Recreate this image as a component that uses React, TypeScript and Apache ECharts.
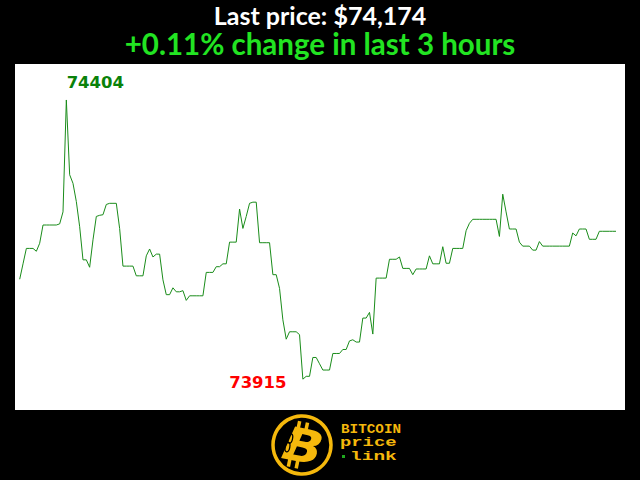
import React, { useEffect, useRef } from "react";
import * as echarts from "echarts";

const titleLine1 = "Last price: $74,174";
const titleLine2 = "+0.11% change in last 3 hours";
const logoWords = ["BITCOIN", "price", "link"];

// one price per minute over the last 3 hours (180 points)
const prices: number[] = [
  74090, 74117, 74144, 74144, 74144, 74139, 74153, 74185, 74185, 74185,
  74185, 74185, 74187, 74208, 74404, 74273, 74258, 74226, 74182, 74124,
  74124, 74111, 74159, 74200, 74202, 74203, 74221, 74223, 74223, 74223,
  74179, 74113, 74113, 74113, 74113, 74096, 74096, 74096, 74131, 74143,
  74129, 74134, 74134, 74089, 74063, 74063, 74075, 74068, 74068, 74070,
  74053, 74061, 74061, 74061, 74061, 74061, 74102, 74102, 74102, 74112,
  74112, 74117, 74117, 74155, 74155, 74155, 74213, 74179, 74200, 74223,
  74225, 74225, 74154, 74154, 74154, 74154, 74098, 74098, 74074, 74019,
  73985, 73998, 73998, 73998, 73993, 73915, 73920, 73920, 73953, 73953,
  73942, 73931, 73931, 73931, 73960, 73960, 73960, 73967, 73967, 73982,
  73984, 73980, 73980, 74022, 74022, 74032, 73994, 74092, 74092, 74092,
  74092, 74125, 74125, 74125, 74129, 74109, 74109, 74109, 74098, 74108,
  74108, 74108, 74108, 74131, 74117, 74117, 74117, 74147, 74118, 74118,
  74144, 74144, 74144, 74144, 74175, 74188, 74195, 74195, 74195, 74195,
  74195, 74195, 74195, 74195, 74165, 74239, 74208, 74178, 74178, 74178,
  74155, 74148, 74148, 74148, 74141, 74141, 74156, 74148, 74148, 74148,
  74148, 74148, 74148, 74148, 74148, 74148, 74171, 74166, 74178, 74178,
  74178, 74160, 74160, 74160, 74174, 74174, 74174, 74174, 74174, 74174,
];

const minutes: number[] = prices.map((_, i) => i);

const GOLD = "#f5b80c";

export default function App() {
  const ref = useRef<HTMLDivElement>(null);

  useEffect(() => {
    if (!ref.current) return;
    const chart = echarts.init(ref.current, undefined, { renderer: "svg" });
    const seriesData = minutes.map((m, i) => [m, prices[i]]);

    chart.setOption({
      animation: false,
      backgroundColor: "#000000",
      grid: {
        left: 15,
        right: 15,
        top: 64,
        bottom: 70,
        show: true,
        backgroundColor: "#ffffff",
        borderWidth: 0,
      },
      xAxis: { type: "value", min: -1.41, max: 181.7, show: false },
      yAxis: { type: "value", min: 73861, max: 74467, show: false, scale: true },
      series: [
        {
          type: "line",
          data: seriesData,
          showSymbol: false,
          lineStyle: { width: 1, color: "#1a8c1a" },
          itemStyle: { color: "#1a8c1a" },
          markPoint: {
            symbol: "circle",
            symbolSize: 0,
            data: [
              {
                type: "max",
                label: {
                  show: true,
                  formatter: "{c}",
                  color: "#0a820a",
                  fontSize: 16.5,
                  fontWeight: "bold",
                  fontFamily: "DejaVu Sans",
                  offset: [29, -17],
                },
              },
              {
                type: "min",
                label: {
                  show: true,
                  formatter: "{c}",
                  color: "#ff0000",
                  fontSize: 16.5,
                  fontWeight: "bold",
                  fontFamily: "DejaVu Sans",
                  offset: [-45, 3],
                },
              },
            ],
          },
        },
      ],
      graphic: [
        {
          type: "text",
          x: 320,
          y: 14.5,
          style: {
            text: titleLine1,
            fill: "#ffffff",
            font: "bold 25px Lato",
            lineHeight: 25,
            textAlign: "center",
            textVerticalAlign: "middle",
          },
        },
        {
          type: "text",
          x: 320,
          y: 43,
          style: {
            text: titleLine2,
            fill: "#22e422",
            font: "bold 29.5px Lato",
            lineHeight: 29,
            textAlign: "center",
            textVerticalAlign: "middle",
          },
        },
        // logo ring
        {
          type: "circle",
          shape: { cx: 302, cy: 445, r: 29 },
          style: { fill: "#000000", stroke: GOLD, lineWidth: 3.5 },
        },
        // bitcoin B
        {
          type: "group",
          x: 302,
          y: 446,
          rotation: -0.2,
          children: [
            { type: "rect", shape: { x: -9, y: -24, width: 3.5, height: 8 }, style: { fill: GOLD } },
            { type: "rect", shape: { x: -1, y: -24, width: 3.5, height: 8 }, style: { fill: GOLD } },
            { type: "rect", shape: { x: -11, y: 15, width: 3.5, height: 8 }, style: { fill: GOLD } },
            { type: "rect", shape: { x: -3, y: 15, width: 3.5, height: 8 }, style: { fill: GOLD } },
            {
              type: "text",
              x: 1,
              y: 0,
              scaleX: 1.15,
              style: {
                text: "B",
                fill: GOLD,
                font: "italic 900 46px 'DejaVu Sans'",
                textAlign: "center",
                textVerticalAlign: "middle",
              },
            },
            {
              type: "ellipse",
              shape: { cx: -13, cy: -5, rx: 2.3, ry: 4.8 },
              style: { fill: "none", stroke: "#000000", lineWidth: 1.3 },
            },
            {
              type: "ellipse",
              shape: { cx: -14, cy: 4, rx: 2.3, ry: 4.8 },
              style: { fill: "none", stroke: "#000000", lineWidth: 1.3 },
            },
          ],
        },
        {
          type: "text",
          x: 341,
          y: 429.5,
          scaleX: 1.1,
          style: {
            text: logoWords[0],
            fill: GOLD,
            font: "bold 13px 'Liberation Mono'",
            textVerticalAlign: "middle",
          },
        },
        {
          type: "text",
          x: 340,
          y: 443,
          scaleX: 1.45,
          style: {
            text: logoWords[1],
            fill: GOLD,
            font: "bold 13px 'Liberation Mono'",
            textVerticalAlign: "middle",
          },
        },
        {
          type: "rect",
          shape: { x: 342, y: 455, width: 3, height: 3 },
          style: { fill: "#1fa81f" },
        },
        {
          type: "text",
          x: 350,
          y: 456.5,
          scaleX: 1.5,
          style: {
            text: logoWords[2],
            fill: GOLD,
            font: "bold 13px 'Liberation Mono'",
            textVerticalAlign: "middle",
          },
        },
      ],
    });

    return () => chart.dispose();
  }, []);

  return (
    <div
      ref={ref}
      style={{ position: "fixed", left: 0, top: 0, width: 640, height: 480, background: "#000" }}
    />
  );
}
